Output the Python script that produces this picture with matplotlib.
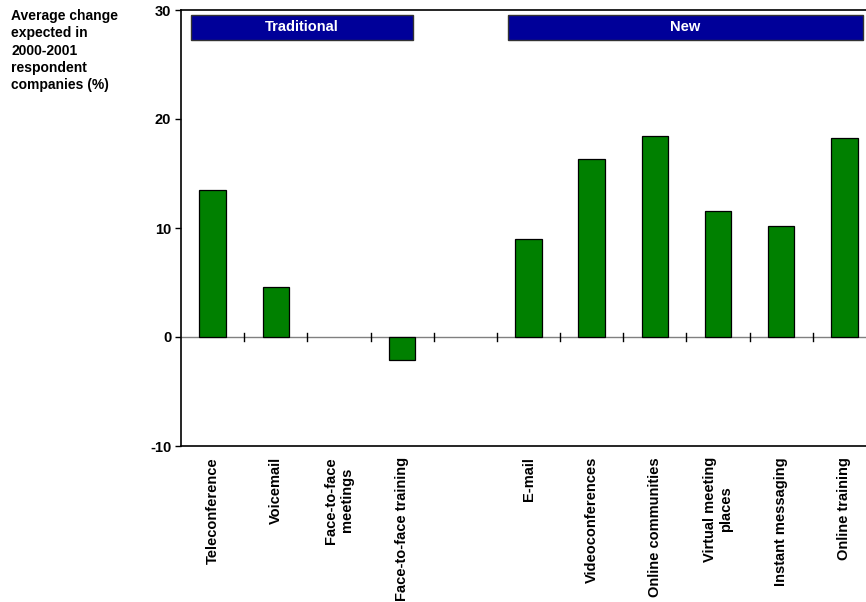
import numpy as np
import matplotlib.pyplot as plt

plt.rcParams['font.family'] = ['Liberation Sans', 'DejaVu Sans']
plt.rcParams['font.weight'] = 'bold'
plt.rcParams['axes.unicode_minus'] = False

# categories (an empty slot separates the two groups)
categories = ['Teleconference', 'Voicemail', 'Face-to-face\nmeetings',
              'Face-to-face training', '', 'E-mail', 'Videoconferences',
              'Online communities', 'Virtual meeting\nplaces',
              'Instant messaging', 'Online training']
values = [13.5, 4.6, 0.0, -2.1, np.nan, 9.0, 16.3, 18.4, 11.6, 10.2, 18.3]

groups = ['Traditional', 'New']
group_spans = [(0.16, 3.67), (5.17, 10.8)]

yticks = [-10, 0, 10, 20, 30]

fig = plt.figure(figsize=(8.66, 6.02), dpi=100)
ax = fig.add_axes([181 / 866, 1 - 446 / 602, 695 / 866, 436 / 602])

x = np.arange(len(categories)) + 0.5
edge_w = [0.9 if (v == v and v != 0) else 0 for v in values]
ax.bar(x, values, width=0.42, color='#008000', edgecolor='black',
       linewidth=edge_w, zorder=3)

ax.set_xlim(0, len(categories))
ax.set_ylim(-10, 30)
ax.set_yticks(yticks)
ax.tick_params(axis='y', direction='out', length=4, width=1, labelsize=10.5, pad=3)
for lab in ax.get_yticklabels():
    lab.set_fontweight('bold')

# zero line with crossing tick marks
ax.axhline(0, color='#808080', linewidth=1, zorder=2)
for k in range(1, len(categories)):
    ax.plot([k, k], [-0.4, 0.4], color='black', linewidth=1, zorder=2)
ax.set_xticks([])

for s in ['left', 'top', 'bottom']:
    ax.spines[s].set_linewidth(1.2)
ax.spines['right'].set_visible(False)

# category labels below the axis
for xi, cat in zip(x, categories):
    ax.text(xi, -11.0, cat, rotation=90, ha='center', va='top',
            fontsize=10.5, fontweight='bold', multialignment='center')

# group banners
for name, (x0, x1) in zip(groups, group_spans):
    ax.add_patch(plt.Rectangle((x0, 27.25), x1 - x0, 2.3, facecolor='#000099',
                               edgecolor='#333333', linewidth=1, zorder=4,
                               clip_on=False))
    ax.text((x0 + x1) / 2, 28.4, name, color='white', ha='center',
            va='center', fontsize=10.5, fontweight='bold', zorder=5)

fig.text(11 / 866, 1 - 9 / 602,
         'Average change\nexpected in\n2000-2001\nrespondent\ncompanies (%)',
         ha='left', va='top', fontsize=10, fontweight='bold', linespacing=1.3)

fig.savefig('out.png', dpi=100)
